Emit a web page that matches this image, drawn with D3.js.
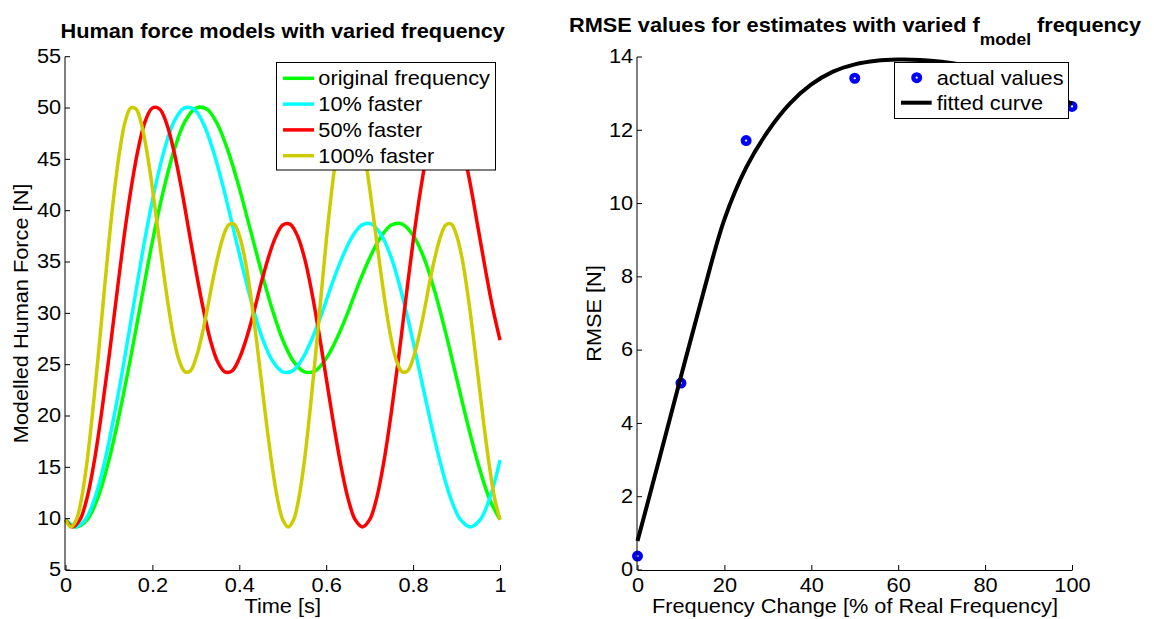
<!DOCTYPE html>
<html>
<head>
<meta charset="utf-8">
<script src="https://cdn.jsdelivr.net/npm/d3@7"></script>
<style>
body { margin: 0; background: #fff; }
svg text { font-family: "Liberation Sans", Arial, Helvetica, sans-serif; fill: #000; white-space: pre; }
</style>
</head>
<body>
<svg id="fig" width="1154" height="619"></svg>
<script>
"use strict";

// ---- left panel: modelled force, one array of times + one of values per series
var greenT = [0,0.025,0.05,0.075,0.1,0.125,0.15,0.175,0.2,0.225,0.25,0.275,0.3,0.325,0.35,0.375,0.4,0.425,0.45,0.475,
  0.5,0.525,0.55,0.575,0.6,0.625,0.65,0.675,0.7,0.725,0.75,0.775,0.8,0.825,0.85,0.875,0.9,0.925,0.95,0.975,1];
var greenF = [9.9,9.2,9.9,12.1,15.7,20.4,25.7,31.4,37.0,41.9,45.9,48.7,50.0,49.9,48.4,45.7,42.2,38.2,34.2,30.5,
  27.4,25.3,24.3,24.4,25.6,27.6,30.1,32.9,35.4,37.4,38.6,38.7,37.6,35.4,32.1,28.1,23.7,19.3,15.3,12.0,9.9];

var cyanT = [0,0.0227,0.0455,0.0682,0.0909,0.1136,0.1364,0.1591,0.1818,0.2045,0.2273,0.25,0.2727,0.2955,0.3182,
  0.3409,0.3636,0.3864,0.4091,0.4318,0.4545,0.4773,0.5,0.5227,0.5455,0.5682,0.5909,0.6136,0.6364,0.6591,0.6818,
  0.7045,0.7273,0.75,0.7727,0.7955,0.8182,0.8409,0.8636,0.8864,0.9091,0.9318,0.9545,0.9773,1];
var cyanF = [9.9,9.2,9.9,12.1,15.7,20.4,25.7,31.4,37.0,41.9,45.9,48.7,50.0,49.9,48.4,45.7,42.2,38.2,34.2,30.5,
  27.4,25.3,24.3,24.4,25.6,27.6,30.1,32.9,35.4,37.4,38.6,38.7,37.6,35.4,32.1,28.1,23.7,19.3,15.3,12.0,9.9,
  9.2,9.9,12.1,15.7];

var redT = [0,0.0167,0.0333,0.05,0.0667,0.0833,0.1,0.1167,0.1333,0.15,0.1667,0.1833,0.2,0.2167,0.2333,0.25,0.2667,
  0.2833,0.3,0.3167,0.3333,0.35,0.3667,0.3833,0.4,0.4167,0.4333,0.45,0.4667,0.4833,0.5,0.5167,0.5333,0.55,0.5667,
  0.5833,0.6,0.6167,0.6333,0.65,0.6667,0.6833,0.7,0.7167,0.7333,0.75,0.7667,0.7833,0.8,0.8167,0.8333,0.85,0.8667,
  0.8833,0.9,0.9167,0.9333,0.95,0.9667,0.9833,1];
var redF = [9.9,9.2,9.9,12.1,15.7,20.4,25.7,31.4,37.0,41.9,45.9,48.7,50.0,49.9,48.4,45.7,42.2,38.2,34.2,30.5,
  27.4,25.3,24.3,24.4,25.6,27.6,30.1,32.9,35.4,37.4,38.6,38.7,37.6,35.4,32.1,28.1,23.7,19.3,15.3,12.0,9.9,
  9.2,9.9,12.1,15.7,20.4,25.7,31.4,37.0,41.9,45.9,48.7,50.0,49.9,48.4,45.7,42.2,38.2,34.2,30.5,27.4];

var yellowT = [0,0.0125,0.025,0.0375,0.05,0.0625,0.075,0.0875,0.1,0.1125,0.125,0.1375,0.15,0.1625,0.175,0.1875,
  0.2,0.2125,0.225,0.2375,0.25,0.2625,0.275,0.2875,0.3,0.3125,0.325,0.3375,0.35,0.3625,0.375,0.3875,0.4,0.4125,
  0.425,0.4375,0.45,0.4625,0.475,0.4875,0.5,0.5125,0.525,0.5375,0.55,0.5625,0.575,0.5875,0.6,0.6125,0.625,0.6375,
  0.65,0.6625,0.675,0.6875,0.7,0.7125,0.725,0.7375,0.75,0.7625,0.775,0.7875,0.8,0.8125,0.825,0.8375,0.85,0.8625,
  0.875,0.8875,0.9,0.9125,0.925,0.9375,0.95,0.9625,0.975,0.9875,1];
var yellowF = [9.9,9.2,9.9,12.1,15.7,20.4,25.7,31.4,37.0,41.9,45.9,48.7,50.0,49.9,48.4,45.7,42.2,38.2,34.2,30.5,
  27.4,25.3,24.3,24.4,25.6,27.6,30.1,32.9,35.4,37.4,38.6,38.7,37.6,35.4,32.1,28.1,23.7,19.3,15.3,12.0,9.9,
  9.2,9.9,12.1,15.7,20.4,25.7,31.4,37.0,41.9,45.9,48.7,50.0,49.9,48.4,45.7,42.2,38.2,34.2,30.5,
  27.4,25.3,24.3,24.4,25.6,27.6,30.1,32.9,35.4,37.4,38.6,38.7,37.6,35.4,32.1,28.1,23.7,19.3,15.3,12.0,9.9];

var seriesNames  = ["original frequency", "10% faster", "50% faster", "100% faster"];
var seriesColors = ["#00ff00", "#00ffff", "#ff0000", "#cccc00"];

var timeTicks  = [0, 0.2, 0.4, 0.6, 0.8, 1];
var forceTicks = [5, 10, 15, 20, 25, 30, 35, 40, 45, 50, 55];

// ---- right panel: RMSE vs frequency change
var rmseX = [0, 10, 25, 50, 100];
var rmseY = [0.38, 5.1, 11.72, 13.42, 12.65];
var fitX = [0,5,10,15,20,25,30,35,40,45,50,55,60,65,70,75,80,85,90,95,100];
var fitY = [0.79,3.02,5.28,7.5,9.57,10.98,11.97,12.72,13.25,13.6,13.8,13.9,13.93,13.92,13.87,13.78,13.65,13.48,13.27,13.02,12.72];
var changeTicks = [0, 20, 40, 60, 80, 100];
var rmseTicks   = [0, 2, 4, 6, 8, 10, 12, 14];

var svg = d3.select("#fig");
var FS = 19.6, SX = 1.11; // matlab text is a little wider than Liberation Sans

function addText(parent, x, y, str, opt) {
  opt = opt || {};
  var tr = "translate(" + x + "," + y + ")" + (opt.rotate ? " rotate(" + opt.rotate + ")" : "") + " scale(" + SX + ",1)";
  return parent.append("text")
    .attr("transform", tr)
    .attr("font-size", opt.size || FS)
    .attr("font-weight", opt.bold ? "bold" : null)
    .attr("text-anchor", opt.anchor || "start")
    .text(str);
}

function styleAxis(g) {
  g.attr("font-size", FS).attr("font-family", null).attr("color", "#000");
  g.selectAll("text").attr("transform", "scale(" + SX + ",1)");
}

/*
 * left panel
 */
var xL = d3.scaleLinear().domain([0, 1]).range([65.5, 500]);
var yL = d3.scaleLinear().domain([5, 55]).range([570, 56.7]);

var left = svg.append("g");

var forceSeries = [
  { t: greenT,  f: greenF },
  { t: cyanT,   f: cyanF },
  { t: redT,    f: redF },
  { t: yellowT, f: yellowF }
];

var forceLine = d3.line()
  .x(function(d) { return xL(d[0]); })
  .y(function(d) { return yL(d[1]); })
  .curve(d3.curveCatmullRom);

forceSeries.forEach(function(s, i) {
  var pts = s.t.map(function(t, j) { return [t, s.f[j]]; });
  left.append("path")
    .attr("d", forceLine(pts))
    .attr("fill", "none")
    .attr("stroke", seriesColors[i])
    .attr("stroke-width", 3.5)
    .attr("stroke-linejoin", "round");
});

left.append("g")
  .attr("transform", "translate(0,570)")
  .call(d3.axisBottom(xL).tickValues(timeTicks).tickFormat(d3.format("~g"))
    .tickSizeInner(-5).tickSizeOuter(0).tickPadding(8))
  .call(styleAxis);

left.append("g")
  .attr("transform", "translate(65,0)")
  .call(d3.axisLeft(yL).tickValues(forceTicks).offset(0)
    .tickSizeInner(-5).tickSizeOuter(0).tickPadding(3.5))
  .call(styleAxis);

addText(left, 282.7, 38.3, "Human force models with varied frequency", { bold: true, anchor: "middle" });
addText(left, 282.7, 613.3, "Time [s]", { anchor: "middle" });
addText(left, 27.5, 313.5, "Modelled Human Force [N]", { anchor: "middle", rotate: -90 });

// legend
var legL = left.append("g");
legL.append("rect")
  .attr("x", 276.5).attr("y", 62.5).attr("width", 219).attr("height", 107.5)
  .attr("fill", "#fff").attr("stroke", "#000").attr("stroke-width", 1);
seriesNames.forEach(function(name, i) {
  var ry = 78.3 + i * 25.8;
  legL.append("line")
    .attr("x1", 283).attr("x2", 314).attr("y1", ry).attr("y2", ry)
    .attr("stroke", seriesColors[i]).attr("stroke-width", 3.5);
  addText(legL, 318.3, ry + 7, name);
});

/*
 * right panel
 */
var xR = d3.scaleLinear().domain([0, 100]).range([637.5, 1072]);
var yR = d3.scaleLinear().domain([0, 14]).range([570, 57]);

var right = svg.append("g");

right.selectAll("circle.pt")
  .data(rmseX.map(function(x, i) { return [x, rmseY[i]]; }))
  .enter().append("circle")
    .attr("class", "pt")
    .attr("cx", function(d) { return xR(d[0]); })
    .attr("cy", function(d) { return yR(d[1]); })
    .attr("r", 3.3)
    .attr("fill", "#fff")
    .attr("stroke", "#0000ff")
    .attr("stroke-width", 4.4);

var fitLine = d3.line()
  .x(function(d) { return xR(d[0]); })
  .y(function(d) { return yR(d[1]); })
  .curve(d3.curveCatmullRom);

right.append("path")
  .attr("d", fitLine(fitX.map(function(x, i) { return [x, fitY[i]]; })))
  .attr("fill", "none")
  .attr("stroke", "#000")
  .attr("stroke-width", 4);

right.append("g")
  .attr("transform", "translate(0,570)")
  .call(d3.axisBottom(xR).tickValues(changeTicks)
    .tickSizeInner(-5).tickSizeOuter(0).tickPadding(8))
  .call(styleAxis);

right.append("g")
  .attr("transform", "translate(637,0)")
  .call(d3.axisLeft(yR).tickValues(rmseTicks).offset(0)
    .tickSizeInner(-5).tickSizeOuter(0).tickPadding(3.5))
  .call(styleAxis);

// title with subscript
var tR = addText(right, 855, 31.5, "", { bold: true, anchor: "middle" });
tR.append("tspan").text("RMSE values for estimates with varied f");
tR.append("tspan").attr("font-size", 15.7).attr("dy", 13).text("model");
tR.append("tspan").attr("dy", -13).text(" frequency");

addText(right, 855, 613.3, "Frequency Change [% of Real Frequency]", { anchor: "middle" });
addText(right, 601, 313.5, "RMSE [N]", { anchor: "middle", rotate: -90 });

// legend
var legR = right.append("g");
legR.append("rect")
  .attr("x", 894.5).attr("y", 62.5).attr("width", 174).attr("height", 56)
  .attr("fill", "#fff").attr("stroke", "#000").attr("stroke-width", 1);
legR.append("circle")
  .attr("cx", 916.7).attr("cy", 77.7).attr("r", 3.3)
  .attr("fill", "#fff").attr("stroke", "#0000ff").attr("stroke-width", 4.4);
addText(legR, 936.7, 85, "actual values");
legR.append("line")
  .attr("x1", 901).attr("x2", 931.7).attr("y1", 102.7).attr("y2", 102.7)
  .attr("stroke", "#000").attr("stroke-width", 4);
addText(legR, 936.7, 110, "fitted curve");
</script>
</body>
</html>
